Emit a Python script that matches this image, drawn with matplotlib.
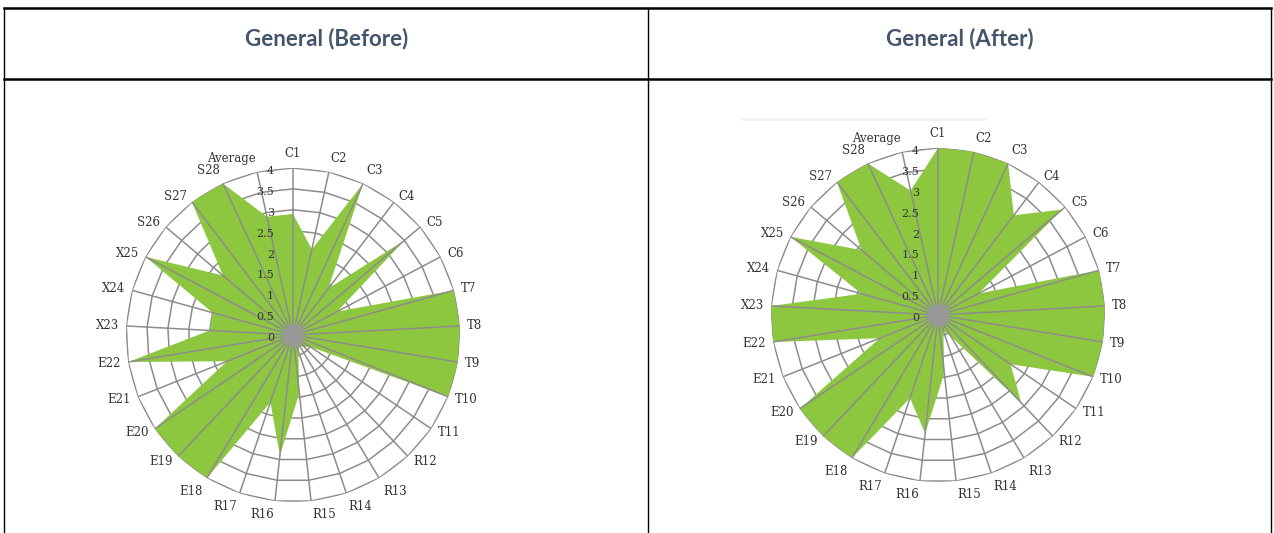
#!/usr/bin/env python3
"""Two radar charts (General before / after) laid out in a two-column table."""

import matplotlib
matplotlib.use("Agg")
import matplotlib.pyplot as plt
import matplotlib.transforms as mtransforms
import numpy as np

# ---- data -----------------------------------------------------------------
CATEGORIES = [
    "C1", "C2", "C3", "C4", "C5", "C6",
    "T7", "T8", "T9", "T10", "T11",
    "R12", "R13", "R14", "R15", "R16", "R17",
    "E18", "E19", "E20", "E21", "E22",
    "X23", "X24", "X25",
    "S26", "S27", "S28",
    "Average",
]

BEFORE = [
    2.9, 2.1, 4.0, 1.4, 3.5, 1.2,
    4.0, 4.0, 4.0, 4.0, 0.5,
    0.4, 0.3, 0.4, 1.4, 2.9, 1.7,
    4.0, 4.0, 4.0, 1.7, 4.0,
    2.0, 2.0, 4.0,
    2.2, 4.0, 4.0,
    2.9,
]

AFTER = [
    4.0, 4.0, 4.0, 3.0, 3.9, 1.1,
    4.0, 4.0, 4.0, 4.0, 2.1,
    2.9, 0.6, 0.4, 1.4, 2.85, 2.1,
    4.0, 4.0, 4.0, 1.5, 4.0,
    4.0, 1.9, 4.0,
    2.4, 4.0, 4.0,
    3.05,
]

RING_TICKS = [0, 0.5, 1, 1.5, 2, 2.5, 3, 3.5, 4]
TITLES = ["General (Before)", "General (After)"]

# ---- style ----------------------------------------------------------------
W, H = 1274, 533
GREEN = "#8dc63f"
GRID = "#8c8c8c"
HEAD = "#44546a"
LABEL_FONT = "DejaVu Serif"


def radar(fig, cx, cy, radius, values):
    """Polar axes centred on pixel (cx, cy); r = 4 sits `radius` px out."""
    ax = fig.add_axes([(cx - radius) / W, (H - cy - radius) / H,
                       2 * radius / W, 2 * radius / H], projection="polar")
    ax.set_theta_zero_location("N")
    ax.set_theta_direction(-1)
    ax.set_ylim(0, 4)
    ax.set_xticks([])
    ax.set_yticks([])
    ax.grid(False)
    ax.spines["polar"].set_visible(False)
    ax.patch.set_alpha(0)

    n = len(CATEGORIES)
    ang = np.arange(n) * 2 * np.pi / n
    ang_c = np.append(ang, ang[0])

    # polygon rings under the fill, spokes on top of it
    for r in RING_TICKS[1:]:
        ax.plot(ang_c, [r] * (n + 1), color=GRID, lw=1.1, zorder=1)
    vals = np.append(values, values[0])
    ax.fill(ang_c, vals, color=GREEN, lw=0, zorder=2)
    for a in ang:
        ax.plot([a, a], [0, 4], color=GRID, lw=1.1, zorder=3)
    # spokes pile up into a grey blob at the centre
    ax.scatter([0], [0], s=260, color="#9a9a9a", alpha=0.9, zorder=4, lw=0)

    for a, lab in zip(ang, CATEGORIES):
        s, c = np.sin(a), np.cos(a)
        ha = "left" if s > 0.05 else "right" if s < -0.05 else "center"
        va = "bottom" if c > 0.85 else "top" if c < -0.85 else "center"
        ax.text(a, 4.18, lab, ha=ha, va=va, fontsize=8.5, family=LABEL_FONT,
                color="#333333", zorder=5)

    off = mtransforms.offset_copy(ax.transData, fig=fig, x=-19, y=-3, units="dots")
    for t in RING_TICKS:
        ax.text(0, t, f"{t:g}", transform=off, ha="right", va="center",
                fontsize=8, family=LABEL_FONT, color="#333333", zorder=5)
    return ax


def main():
    fig = plt.figure(figsize=(W / 100, H / 100), dpi=100)
    fig.patch.set_facecolor("white")

    # table frame
    tab = fig.add_axes([0, 0, 1, 1])
    tab.set_xlim(0, W)
    tab.set_ylim(H, 0)
    tab.axis("off")
    tab.plot([4, 1271], [8, 8], color="black", lw=1.8)
    tab.plot([4, 1271], [79, 79], color="black", lw=1.8)
    for x in (4, 648, 1271):
        tab.plot([x, x], [8, H], color="black", lw=1.0)
    # faint remnant of cropped text above the right-hand chart
    tab.plot([742, 985], [119, 119], color="#f1f1f1", lw=2, solid_capstyle="round")

    tab.text(327, 39, TITLES[0], ha="center", va="center", fontsize=16,
             family="Lato", weight="bold", color=HEAD)
    tab.text(960, 39, TITLES[1], ha="center", va="center", fontsize=16,
             family="Lato", weight="bold", color=HEAD)

    radar(fig, 293, 335, 167, BEFORE)
    radar(fig, 938, 315, 167, AFTER)

    fig.savefig("out.png", dpi=100, facecolor="white")


if __name__ == "__main__":
    main()
